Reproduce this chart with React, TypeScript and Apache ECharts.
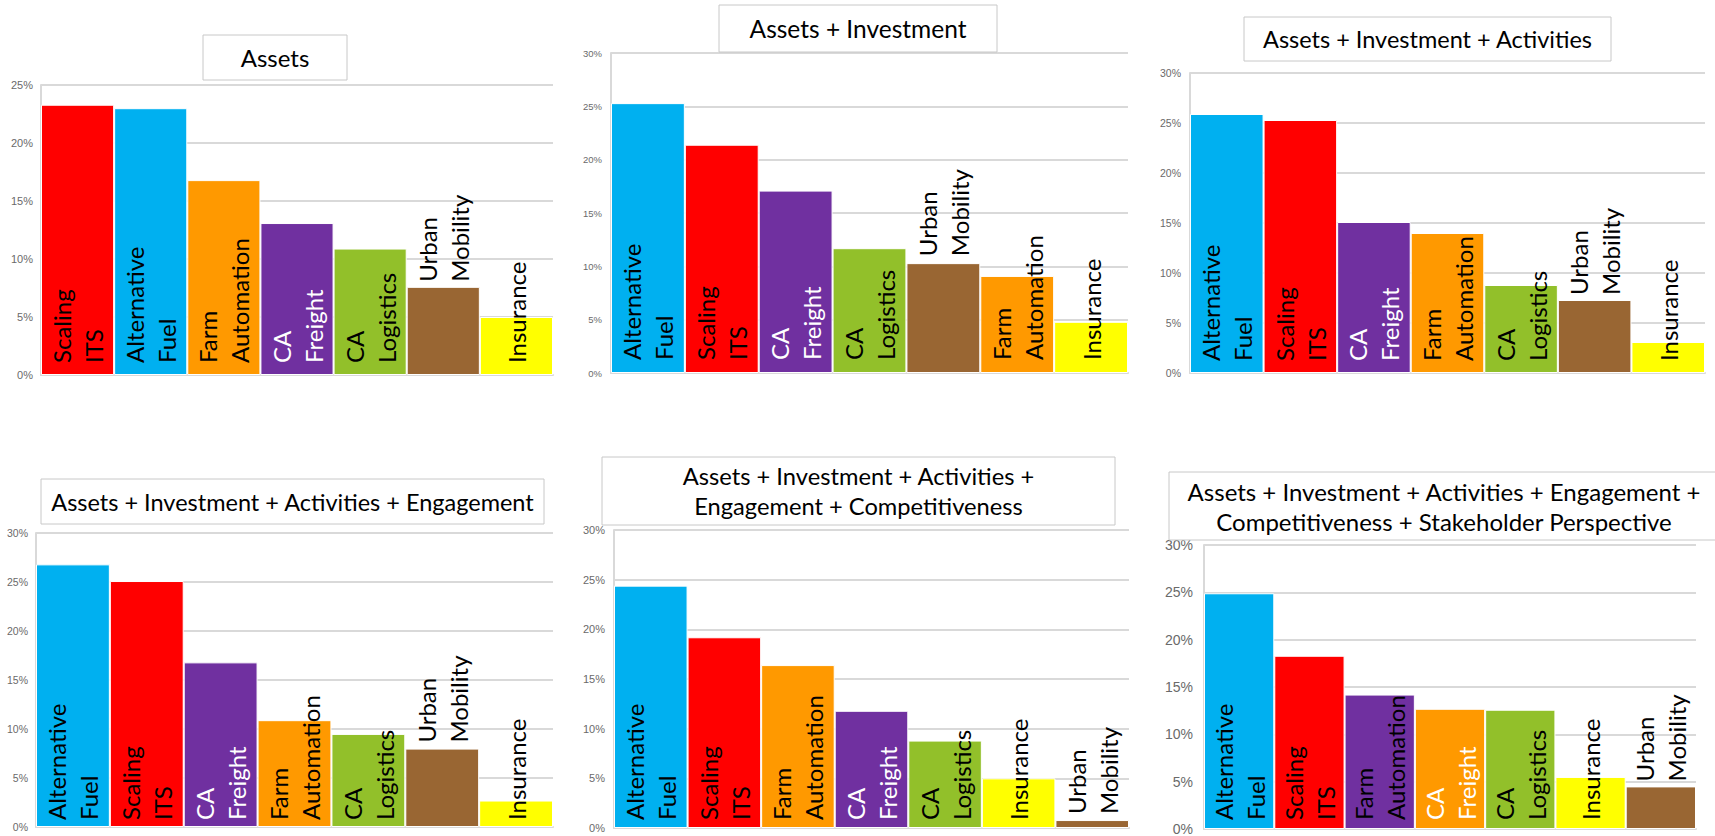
import React, { useEffect, useRef } from 'react';
import * as echarts from 'echarts';

// ---------- DATA ----------
const p1Title = 'Assets';
const p1Categories = ['Scaling ITS', 'Alternative Fuel', 'Farm Automation', 'CA Freight', 'CA Logistics', 'Urban Mobility', 'Insurance'];
const p1Values = [23.3, 23.0, 16.8, 13.1, 10.9, 7.6, 5.0];

const p2Title = 'Assets + Investment';
const p2Categories = ['Alternative Fuel', 'Scaling ITS', 'CA Freight', 'CA Logistics', 'Urban Mobility', 'Farm Automation', 'Insurance'];
const p2Values = [25.3, 21.4, 17.1, 11.7, 10.3, 9.1, 4.8];

const p3Title = 'Assets + Investment + Activities';
const p3Categories = ['Alternative Fuel', 'Scaling ITS', 'CA Freight', 'Farm Automation', 'CA Logistics', 'Urban Mobility', 'Insurance'];
const p3Values = [25.9, 25.3, 15.1, 14.0, 8.8, 7.3, 3.1];

const p4Title = 'Assets + Investment + Activities + Engagement';
const p4Categories = ['Alternative Fuel', 'Scaling ITS', 'CA Freight', 'Farm Automation', 'CA Logistics', 'Urban Mobility', 'Insurance'];
const p4Values = [26.8, 25.1, 16.8, 10.9, 9.5, 8.0, 2.7];

const p5Title = 'Assets + Investment + Activities +\nEngagement + Competitiveness';
const p5Categories = ['Alternative Fuel', 'Scaling ITS', 'Farm Automation', 'CA Freight', 'CA Logistics', 'Insurance', 'Urban Mobility'];
const p5Values = [24.4, 19.2, 16.4, 11.8, 8.8, 5.0, 0.8];

const p6Title = 'Assets + Investment + Activities + Engagement +\nCompetitiveness + Stakeholder Perspective';
const p6Categories = ['Alternative Fuel', 'Scaling ITS', 'Farm Automation', 'CA Freight', 'CA Logistics', 'Insurance', 'Urban Mobility'];
const p6Values = [24.9, 18.3, 14.2, 12.7, 12.6, 5.5, 4.5];

const yMax = [25, 30, 30, 30, 30, 30];
const yStep = 5;

// ---------- STYLE ----------
const colorByName: Record<string, string> = {
  'Alternative Fuel': '#00B0F0',
  'Scaling ITS': '#FF0000',
  'Farm Automation': '#FF9900',
  'CA Freight': '#7030A0',
  'CA Logistics': '#92C02A',
  'Urban Mobility': '#996633',
  'Insurance': '#FFFF00',
};
// the last panel draws Farm Automation and CA Freight with swapped fills
const p6Fill: Record<string, string> = { 'Farm Automation': '#7030A0', 'CA Freight': '#FF9900' };

const panels = [
  { title: p1Title, cats: p1Categories, vals: p1Values },
  { title: p2Title, cats: p2Categories, vals: p2Values },
  { title: p3Title, cats: p3Categories, vals: p3Values },
  { title: p4Title, cats: p4Categories, vals: p4Values },
  { title: p5Title, cats: p5Categories, vals: p5Values },
  { title: p6Title, cats: p6Categories, vals: p6Values, fill: p6Fill },
];

const layout = [
  { grid: { left: 41, top: 85, width: 512, height: 290 }, box: [203, 35, 144, 45], tx: 275, titleSize: 24, yFont: 11, bottomDist: 12, topDist: 5, margin: 8 },
  { grid: { left: 611, top: 53, width: 517, height: 320 }, box: [719, 5, 278, 47], tx: 858, titleSize: 24.5, yFont: 9.5, bottomDist: 13, topDist: 7, margin: 9 },
  { grid: { left: 1190, top: 73, width: 515, height: 300 }, box: [1244, 17, 367, 44], tx: 1427.5, titleSize: 23.5, yFont: 10.5, bottomDist: 12, topDist: 5, margin: 9 },
  { grid: { left: 36, top: 533, width: 517, height: 294 }, box: [41, 479, 503, 45], tx: 292.5, titleSize: 23.5, yFont: 10.5, bottomDist: 7, topDist: 6, margin: 8 },
  { grid: { left: 614, top: 530, width: 515, height: 298 }, box: [602, 457, 513, 68], tx: 858.5, titleSize: 23.7, yFont: 11, bottomDist: 8, topDist: 6, margin: 9 },
  { grid: { left: 1204, top: 545, width: 492, height: 286 }, box: [1169, 472, 551, 68], tx: 1444, titleSize: 24, yFont: 14, bottomDist: 9, topDist: 5, margin: 11 },
];

const labelFont = 'Lato, "Open Sans", sans-serif';
const gridColor = '#d9d9d9';

export default function App() {
  const ref = useRef<HTMLDivElement>(null);

  useEffect(() => {
    const el = ref.current;
    if (!el) return;
    const chart = echarts.init(el, null, { renderer: 'svg' });

    const grid: any[] = [];
    const xAxis: any[] = [];
    const yAxis: any[] = [];
    const series: any[] = [];
    const graphic: any[] = [];

    panels.forEach((p, i) => {
      const L = layout[i];
      grid.push({ ...L.grid, containLabel: false });
      xAxis.push({
        type: 'category',
        gridIndex: i,
        data: p.cats,
        axisLabel: { show: false },
        axisTick: { show: false },
        axisLine: { show: true, lineStyle: { color: gridColor, width: 2 } },
      });
      yAxis.push({
        type: 'value',
        gridIndex: i,
        min: 0,
        max: yMax[i],
        interval: yStep,
        axisLabel: {
          formatter: '{value}%',
          fontSize: L.yFont,
          color: '#6a6a6a',
          fontFamily: '"Liberation Sans", Arial, sans-serif',
          margin: L.margin,
        },
        splitLine: { show: true, lineStyle: { color: gridColor, width: 2 } },
        axisLine: { show: true, lineStyle: { color: gridColor, width: 2 } },
        axisTick: { show: false },
      });
      series.push({
        type: 'bar',
        xAxisIndex: i,
        yAxisIndex: i,
        barCategoryGap: '0%',
        itemStyle: { borderColor: '#ffffff', borderWidth: 1 },
        data: p.vals.map((v, j) => {
          const name = p.cats[j];
          const fill = (p as any).fill?.[name] ?? colorByName[name];
          const onTop = name === 'Urban Mobility';
          return {
            value: v,
            itemStyle: { color: fill },
            label: {
              show: true,
              position: onTop ? 'top' : 'insideBottom',
              distance: onTop ? L.topDist : L.bottomDist,
              rotate: 90,
              align: 'left',
              verticalAlign: 'middle',
              fontFamily: labelFont,
              fontSize: 24,
              lineHeight: 32,
              color: name === 'CA Freight' ? '#ffffff' : '#000000',
              formatter: (prm: any) => String(prm.name).replace(' ', '\n'),
            },
          };
        }),
      });
      const [bx, by, bw, bh] = L.box;
      graphic.push({
        type: 'rect',
        z: 100,
        shape: { x: bx, y: by, width: bw, height: bh },
        style: { fill: '#ffffff', stroke: '#c8c8c8', lineWidth: 1 },
      });
      graphic.push({
        type: 'text',
        z: 101,
        x: L.tx,
        y: by + bh / 2,
        style: {
          text: p.title,
          align: 'center',
          verticalAlign: 'middle',
          fontFamily: labelFont,
          fontSize: L.titleSize,
          lineHeight: 30,
          fill: '#000000',
        },
      });
    });

    chart.setOption({
      animation: false,
      backgroundColor: '#ffffff',
      grid,
      xAxis,
      yAxis,
      series,
      graphic,
    });
    return () => chart.dispose();
  }, []);

  return (
    <div
      ref={ref}
      style={{ position: 'absolute', left: 0, top: 0, width: 1715, height: 836, background: '#fff' }}
    />
  );
}
